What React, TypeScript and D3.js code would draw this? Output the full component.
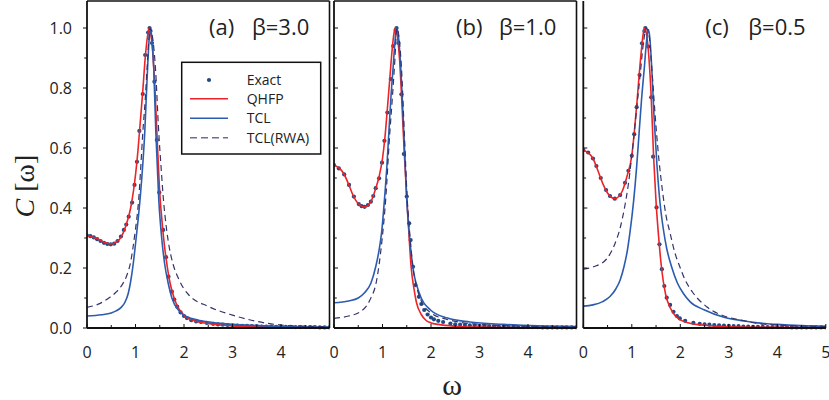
import React from 'react';
import * as d3 from 'd3';

type P = [number, number];

// ---------- Panel (a) beta = 3.0 ----------
const exactA: P[] = [
  [0, 0.308], [0.07, 0.306], [0.14, 0.302], [0.21, 0.296], [0.28, 0.29], [0.35, 0.284], [0.42, 0.28],
  [0.49, 0.279], [0.56, 0.281], [0.63, 0.29], [0.7, 0.305], [0.76, 0.327], [0.81, 0.345], [0.86, 0.371],
  [0.93, 0.418], [0.98, 0.477], [1.03, 0.554], [1.08, 0.657], [1.15, 0.78], [1.2, 0.91], [1.26, 0.985],
  [1.29, 1.0], [1.31, 0.99], [1.34, 0.95], [1.39, 0.821], [1.44, 0.627], [1.49, 0.452], [1.57, 0.327],
  [1.63, 0.236], [1.68, 0.171], [1.75, 0.121], [1.8, 0.095], [1.86, 0.071], [1.93, 0.052], [2.0, 0.04],
  [2.06, 0.033], [2.15, 0.026], [2.25, 0.022], [2.35, 0.02], [2.47, 0.017], [2.6, 0.014], [2.7, 0.012],
  [2.8, 0.011], [2.9, 0.01], [3.0, 0.009], [3.1, 0.008], [3.2, 0.007], [3.3, 0.007], [3.4, 0.006],
  [3.5, 0.006], [3.6, 0.005], [3.7, 0.005], [3.8, 0.005], [3.9, 0.004], [4.0, 0.004], [4.1, 0.004],
  [4.2, 0.004], [4.3, 0.003], [4.4, 0.003], [4.5, 0.003], [4.6, 0.003], [4.7, 0.003], [4.8, 0.002],
  [4.9, 0.002], [5.0, 0.002],
];
const qhfpA: P[] = [
  [0, 0.308], [0.2, 0.298], [0.4, 0.283], [0.5, 0.28], [0.6, 0.286], [0.7, 0.302], [0.8, 0.34], [0.9, 0.4],
  [1.0, 0.51], [1.05, 0.59], [1.1, 0.69], [1.15, 0.79], [1.2, 0.9], [1.25, 0.975], [1.28, 1.0], [1.31, 0.985],
  [1.35, 0.93], [1.4, 0.8], [1.45, 0.62], [1.5, 0.45], [1.55, 0.35], [1.6, 0.27], [1.65, 0.21], [1.7, 0.16],
  [1.75, 0.125], [1.85, 0.077], [2.0, 0.042], [2.2, 0.025], [2.5, 0.015], [3.0, 0.007], [3.5, 0.004],
  [4.0, 0.003], [5.0, 0.001],
];
const tclA: P[] = [
  [0, 0.04], [0.3, 0.044], [0.5, 0.05], [0.6, 0.057], [0.7, 0.068], [0.78, 0.085], [0.85, 0.115],
  [0.9, 0.155], [0.95, 0.21], [1.0, 0.28], [1.05, 0.355], [1.1, 0.44], [1.15, 0.545], [1.19, 0.65],
  [1.22, 0.76], [1.25, 0.87], [1.28, 0.96], [1.31, 1.0], [1.34, 0.96], [1.375, 0.87], [1.42, 0.65],
  [1.48, 0.427], [1.54, 0.3], [1.6, 0.215], [1.68, 0.145], [1.75, 0.1], [1.9, 0.057], [2.06, 0.038],
  [2.3, 0.026], [2.6, 0.018], [3.0, 0.012], [3.5, 0.008], [4.0, 0.005], [5.0, 0.003],
];
const rwaA: P[] = [
  [0, 0.069], [0.27, 0.082], [0.45, 0.1], [0.61, 0.121], [0.72, 0.143], [0.82, 0.175], [0.9, 0.22],
  [0.95, 0.27], [1.0, 0.33], [1.04, 0.383], [1.065, 0.427], [1.11, 0.54], [1.15, 0.65], [1.2, 0.76],
  [1.24, 0.87], [1.27, 0.95], [1.3, 1.0], [1.34, 0.98], [1.38, 0.93], [1.41, 0.87], [1.48, 0.65],
  [1.53, 0.53], [1.57, 0.44], [1.64, 0.33], [1.7, 0.265], [1.78, 0.21], [1.9, 0.16], [2.0, 0.13],
  [2.1, 0.11], [2.5, 0.072], [3.0, 0.043], [3.5, 0.022], [3.7, 0.016], [4.0, 0.01], [4.5, 0.006],
  [5.0, 0.004],
];

// ---------- Panel (b) beta = 1.0 ----------
const exactB: P[] = [
  [0, 0.543], [0.1, 0.532], [0.21, 0.512], [0.31, 0.477], [0.41, 0.438], [0.51, 0.413], [0.57, 0.406],
  [0.63, 0.404], [0.7, 0.41], [0.76, 0.421], [0.81, 0.44], [0.86, 0.466], [0.93, 0.499], [0.99, 0.551],
  [1.04, 0.624], [1.1, 0.718], [1.17, 0.83], [1.22, 0.94], [1.27, 0.993], [1.29, 1.0], [1.33, 0.95],
  [1.39, 0.779], [1.44, 0.58], [1.5, 0.438], [1.55, 0.349], [1.58, 0.293], [1.63, 0.204], [1.68, 0.143],
  [1.75, 0.104], [1.8, 0.08], [1.86, 0.06], [1.93, 0.045], [2.0, 0.035], [2.06, 0.029], [2.15, 0.024],
  [2.25, 0.02], [2.4, 0.015], [2.5, 0.012], [2.6, 0.011], [2.7, 0.01], [2.8, 0.009], [2.9, 0.008],
  [3.0, 0.007], [3.1, 0.006], [3.2, 0.006], [3.3, 0.005], [3.4, 0.005], [3.5, 0.004], [3.6, 0.004],
  [3.7, 0.004], [3.8, 0.003], [3.9, 0.003], [4.0, 0.003], [4.1, 0.003], [4.2, 0.003], [4.3, 0.002],
  [4.4, 0.002], [4.5, 0.002], [4.6, 0.002], [4.7, 0.002], [4.8, 0.002], [4.9, 0.002], [5.0, 0.002],
];
const qhfpB: P[] = [
  [0, 0.543], [0.2, 0.515], [0.3, 0.48], [0.4, 0.44], [0.5, 0.414], [0.63, 0.403], [0.75, 0.418],
  [0.85, 0.46], [0.93, 0.505], [1.0, 0.565], [1.05, 0.635], [1.1, 0.73], [1.15, 0.83], [1.2, 0.93],
  [1.24, 0.985], [1.27, 1.0], [1.3, 0.98], [1.35, 0.9], [1.4, 0.75], [1.45, 0.58], [1.5, 0.44],
  [1.55, 0.3], [1.59, 0.204], [1.65, 0.13], [1.7, 0.085], [1.8, 0.045], [1.9, 0.025], [2.0, 0.017],
  [2.15, 0.012], [2.5, 0.006], [3.0, 0.003], [4.0, 0.001], [5.0, 0.0005],
];
const tclB: P[] = [
  [0, 0.084], [0.3, 0.09], [0.5, 0.1], [0.62, 0.116], [0.76, 0.149], [0.86, 0.204], [0.93, 0.26],
  [0.98, 0.316], [1.04, 0.427], [1.09, 0.538], [1.13, 0.649], [1.17, 0.76], [1.22, 0.871], [1.26, 0.96],
  [1.29, 1.0], [1.33, 0.97], [1.375, 0.871], [1.44, 0.649], [1.5, 0.427], [1.56, 0.3], [1.62, 0.21],
  [1.75, 0.12], [1.99, 0.06], [2.34, 0.033], [2.8, 0.02], [3.49, 0.012], [4.2, 0.007], [5.0, 0.005],
];
const rwaB: P[] = [
  [0, 0.032], [0.3, 0.04], [0.54, 0.054], [0.74, 0.093], [0.88, 0.16], [0.99, 0.293], [1.065, 0.427],
  [1.15, 0.649], [1.2, 0.76], [1.25, 0.88], [1.3, 1.0], [1.34, 0.97], [1.39, 0.87], [1.45, 0.65],
  [1.51, 0.43], [1.57, 0.3], [1.63, 0.2], [1.7, 0.14], [1.8, 0.09], [2.0, 0.05], [2.3, 0.03],
  [2.5, 0.022], [3.0, 0.012], [3.5, 0.008], [4.0, 0.006], [5.0, 0.004],
];

// ---------- Panel (c) beta = 0.5 ----------
const exactC: P[] = [
  [0, 0.593], [0.1, 0.585], [0.2, 0.565], [0.27, 0.54], [0.36, 0.5], [0.47, 0.46], [0.55, 0.44],
  [0.65, 0.431], [0.76, 0.443], [0.86, 0.484], [0.93, 0.524], [1.0, 0.574], [1.05, 0.646], [1.1, 0.736],
  [1.16, 0.843], [1.21, 0.949], [1.26, 0.99], [1.28, 1.0], [1.34, 0.938], [1.4, 0.769], [1.44, 0.571],
  [1.51, 0.402], [1.57, 0.279], [1.62, 0.196], [1.67, 0.14], [1.72, 0.101], [1.79, 0.077], [1.86, 0.054],
  [1.93, 0.04], [1.99, 0.032], [2.1, 0.024], [2.27, 0.017], [2.4, 0.014], [2.5, 0.012], [2.6, 0.011],
  [2.7, 0.01], [2.8, 0.009], [2.9, 0.008], [3.0, 0.007], [3.1, 0.006], [3.2, 0.006], [3.3, 0.005],
  [3.4, 0.005], [3.5, 0.004], [3.6, 0.004], [3.7, 0.004], [3.8, 0.003], [3.9, 0.003], [4.0, 0.003],
  [4.1, 0.003], [4.2, 0.003], [4.3, 0.002], [4.4, 0.002], [4.5, 0.002], [4.6, 0.002], [4.7, 0.002],
  [4.8, 0.002], [4.9, 0.002], [5.0, 0.002],
];
const qhfpC: P[] = [
  [0, 0.593], [0.2, 0.565], [0.3, 0.525], [0.4, 0.482], [0.5, 0.45], [0.65, 0.431], [0.8, 0.455],
  [0.9, 0.505], [1.0, 0.575], [1.05, 0.65], [1.1, 0.74], [1.15, 0.84], [1.2, 0.93], [1.24, 0.985],
  [1.27, 1.0], [1.32, 0.96], [1.4, 0.77], [1.45, 0.57], [1.5, 0.42], [1.55, 0.31], [1.6, 0.22],
  [1.65, 0.155], [1.7, 0.11], [1.8, 0.065], [1.9, 0.04], [2.0, 0.027], [2.2, 0.016], [2.5, 0.009],
  [3.0, 0.004], [4.0, 0.002], [5.0, 0.001],
];
const tclC: P[] = [
  [0, 0.073], [0.2, 0.077], [0.4, 0.088], [0.55, 0.105], [0.67, 0.13], [0.76, 0.16], [0.84, 0.205],
  [0.91, 0.26], [0.96, 0.316], [1.04, 0.427], [1.1, 0.538], [1.15, 0.649], [1.2, 0.76], [1.26, 0.871],
  [1.3, 0.95], [1.34, 0.995], [1.37, 0.97], [1.41, 0.871], [1.46, 0.7], [1.52, 0.54], [1.58, 0.42],
  [1.65, 0.33], [1.72, 0.265], [1.82, 0.204], [1.94, 0.15], [2.06, 0.116], [2.2, 0.088], [2.5, 0.06],
  [2.9, 0.036], [3.3, 0.024], [3.6, 0.017], [4.0, 0.012], [4.5, 0.008], [5.0, 0.006],
];
const rwaC: P[] = [
  [0, 0.196], [0.21, 0.204], [0.48, 0.23], [0.65, 0.28], [0.77, 0.34], [0.86, 0.41], [0.93, 0.48],
  [1.0, 0.575], [1.1, 0.73], [1.17, 0.84], [1.24, 0.95], [1.3, 1.0], [1.36, 0.97], [1.41, 0.87],
  [1.5, 0.67], [1.56, 0.56], [1.63, 0.46], [1.7, 0.38], [1.79, 0.316], [1.89, 0.25], [1.99, 0.204],
  [2.1, 0.16], [2.25, 0.12], [2.55, 0.07], [2.9, 0.04], [3.2, 0.028], [3.6, 0.015], [4.0, 0.01],
  [5.0, 0.005],
];

const panelLetters = ['(a)', '(b)', '(c)'];
const panelBetas = ['\u03b2=3.0', '\u03b2=1.0', '\u03b2=0.5'];
const yTicks = [0, 0.2, 0.4, 0.6, 0.8, 1.0];
const yTickLabels = ['0.0', '0.2', '0.4', '0.6', '0.8', '1.0'];
const yMinor = [0.1, 0.3, 0.5, 0.7, 0.9];
const xTicks = [0, 1, 2, 3, 4, 5];
const xMinor = [0.5, 1.5, 2.5, 3.5, 4.5];
const legendLabels = ['Exact', 'QHFP', 'TCL', 'TCL(RWA)'];

const panelsData = [
  { exact: exactA, qhfp: qhfpA, tcl: tclA, rwa: rwaA },
  { exact: exactB, qhfp: qhfpB, tcl: tclB, rwa: rwaB },
  { exact: exactC, qhfp: qhfpC, tcl: tclC, rwa: rwaC },
];

const RED = '#ec2327';
const BLUE = '#2c5caf';
const DASH = '#34346a';
const DOT = '#1f4a86';
const SANS = "'Open Sans', 'Noto Sans', sans-serif";
const SERIF = "'Liberation Serif', 'DejaVu Serif', serif";

const panelLeft = [87, 334, 583.3];
const panelW = 242.5;
const yBottom = 328;
const yTopPx = 1;

const y = d3.scaleLinear().domain([0, 1.09]).range([yBottom, yTopPx]);

function Panel({ idx }: { idx: number }) {
  const left = panelLeft[idx];
  const x = d3.scaleLinear().domain([0, 5]).range([left, left + panelW]);
  const d = panelsData[idx];
  const line = d3
    .line<P>()
    .x((p) => x(p[0]))
    .y((p) => y(p[1]))
    .curve(d3.curveMonotoneX);
  const clipId = `clip${idx}`;
  const tickIn = idx === 0 ? -4 : 4;
  const xLabels = idx === 2 ? xTicks : xTicks.slice(0, 5);
  return (
    <g>
      <defs>
        <clipPath id={clipId}>
          <rect x={left} y={yTopPx} width={panelW} height={yBottom - yTopPx + 2} />
        </clipPath>
      </defs>
      <g clipPath={`url(#${clipId})`}>
        {d.exact.map((p, i) => (
          <circle key={i} cx={x(p[0])} cy={y(p[1])} r={2.1} fill={DOT} />
        ))}
        <path d={line(d.qhfp) || ''} fill="none" stroke={RED} strokeWidth={1.6} />
        <path d={line(d.tcl) || ''} fill="none" stroke={BLUE} strokeWidth={1.6} />
        <path d={line(d.rwa) || ''} fill="none" stroke={DASH} strokeWidth={1.2} strokeDasharray="6,4" />
      </g>
      <line x1={left} x2={left} y1={yTopPx} y2={yBottom} stroke="#111" strokeWidth={1.8} />
      <line x1={left} x2={left + panelW} y1={yBottom} y2={yBottom} stroke="#111" strokeWidth={1.8} />
      {idx < 2 && (
        <>
          <line x1={left} x2={left + panelW} y1={yTopPx} y2={yTopPx} stroke="#111" strokeWidth={1.6} />
          <line x1={left + panelW} x2={left + panelW} y1={yTopPx} y2={yBottom} stroke="#111" strokeWidth={1.6} />
        </>
      )}
      {yTicks.map((t) => (
        <line key={'ym' + t} x1={left} x2={left + tickIn} y1={y(t)} y2={y(t)} stroke="#111" strokeWidth={1} />
      ))}
      {yMinor.map((t) => (
        <line key={'yn' + t} x1={left} x2={left + tickIn * 0.7} y1={y(t)} y2={y(t)} stroke="#111" strokeWidth={1} />
      ))}
      {idx === 0 &&
        yTicks.map((t, i) => (
          <text key={'yl' + t} x={72} y={y(t)} dy="0.36em" textAnchor="end" fontSize={16} fontFamily={SANS} fill="#222">
            {yTickLabels[i]}
          </text>
        ))}
      {xTicks.map((t) => (
        <line key={'xm' + t} x1={x(t)} x2={x(t)} y1={yBottom} y2={yBottom - 4} stroke="#111" strokeWidth={1} />
      ))}
      {xMinor.map((t) => (
        <line key={'xn' + t} x1={x(t)} x2={x(t)} y1={yBottom} y2={yBottom - 3} stroke="#111" strokeWidth={1} />
      ))}
      {xLabels.map((t) => (
        <text key={'xl' + t} x={x(t)} y={358} textAnchor="middle" fontSize={16} fontFamily={SANS} fill="#222">
          {String(t)}
        </text>
      ))}
      <text x={left + 122} y={35} fontSize={22} fontFamily={SANS} fill="#222">
        {panelLetters[idx]}
      </text>
      <text x={left + 165} y={35} fontSize={22} fontFamily={SANS} fill="#222">
        {panelBetas[idx]}
      </text>
    </g>
  );
}

function Legend() {
  const bx = 181.7, by = 62.3, bw = 139, bh = 91.7;
  const rows = [80, 98.7, 118.3, 137.7];
  const s0 = 190, s1 = 228;
  return (
    <g>
      <rect x={bx} y={by} width={bw} height={bh} fill="white" stroke="#111" strokeWidth={1.5} />
      <circle cx={(s0 + s1) / 2} cy={rows[0]} r={2.1} fill={DOT} />
      <line x1={s0} x2={s1} y1={rows[1]} y2={rows[1]} stroke={RED} strokeWidth={1.6} />
      <line x1={s0} x2={s1} y1={rows[2]} y2={rows[2]} stroke={BLUE} strokeWidth={1.6} />
      <line x1={s0} x2={s1} y1={rows[3]} y2={rows[3]} stroke="#6e6e98" strokeWidth={1.5} strokeDasharray="7,4" />
      {legendLabels.map((l, i) => (
        <text key={l} x={246.7} y={rows[i]} dy="0.36em" fontSize={14} fontFamily={SANS} fill="#222">
          {l}
        </text>
      ))}
    </g>
  );
}

export default function App() {
  return (
    <svg
      width={829}
      height={400}
      viewBox="0 0 829 400"
      style={{ position: 'absolute', left: 0, top: 0, background: 'white' }}
    >
      <rect x={0} y={0} width={829} height={400} fill="white" />
      {[0, 1, 2].map((i) => (
        <Panel key={i} idx={i} />
      ))}
      <Legend />
      <text x={452} y={395} textAnchor="middle" fontSize={30} fontFamily={SERIF} fill="#222">
        {'\u03c9'}
      </text>
      <text
        transform="translate(34,186) rotate(-90)"
        textAnchor="middle"
        fontSize={28}
        fontFamily={SERIF}
        fill="#222"
      >
        <tspan fontStyle="italic">C</tspan>
        <tspan> [{'\u03c9'}]</tspan>
      </text>
    </svg>
  );
}
